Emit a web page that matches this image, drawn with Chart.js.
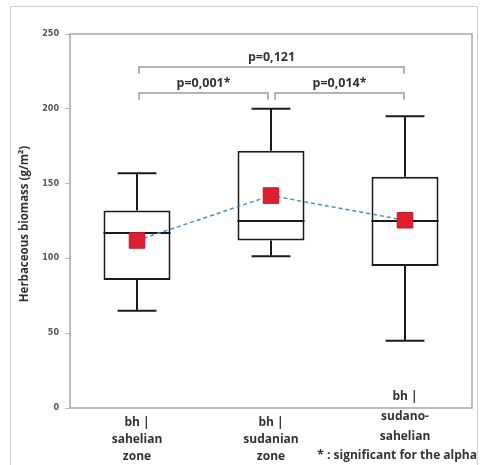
<!DOCTYPE html>
<html>
<head>
<meta charset="utf-8">
<script src="https://cdn.jsdelivr.net/npm/chart.js@4.4.1/dist/chart.umd.min.js"></script>
<style>
  html, body { margin: 0; padding: 0; background: #fff; }
  #frame { position: absolute; left: 10px; top: 6px; width: 468px; height: 470px; border: 1px solid #cfcfcf; box-sizing: border-box; }
  #wrap { position: absolute; left: 0; top: 0; width: 484px; height: 465px; }
</style>
</head>
<body>
<div id="frame"></div>
<div id="wrap"><canvas id="chart" width="484" height="465"></canvas></div>
<script>
// data
const zones = ['sahelian', 'sudanian', 'sudano-sahelian'];
const zoneLabels = [['bh |', 'sahelian', 'zone'], ['bh |', 'sudanian', 'zone'], ['bh |', 'sudano-', 'sahelian']];
const whiskerMin = [65, 101.5, 45];
const q1 = [85.5, 112, 95];
const medians = [117, 125, 125];
const q3 = [132, 172, 154.5];
const whiskerMax = [157, 200, 195];
const means = [112, 142, 125.5];
const yTicks = [0, 50, 100, 150, 200, 250];

// pairwise comparisons: [from, to, level, label]
const pairs = [
  [0, 2, 228, 'p=0,121'],
  [0, 1, 210.5, 'p=0,001*'],
  [1, 2, 210.5, 'p=0,014*']
];
const footnote = '* : significant for the alpha';

const boxPlugin = {
  id: 'boxParts',
  beforeDatasetDraw(chart, args) {
    if (args.index !== 0) return;
    const { ctx, scales: { y } } = chart;
    const meta = chart.getDatasetMeta(0);
    ctx.save();
    ctx.strokeStyle = '#1a1a1a';
    ctx.lineWidth = 2;
    meta.data.forEach((bar, i) => {
      const cx = bar.x;
      const cap = bar.width * 0.29;
      ctx.beginPath();
      ctx.moveTo(cx, y.getPixelForValue(whiskerMin[i]));
      ctx.lineTo(cx, y.getPixelForValue(q1[i]));
      ctx.moveTo(cx, y.getPixelForValue(q3[i]));
      ctx.lineTo(cx, y.getPixelForValue(whiskerMax[i]));
      ctx.moveTo(cx - cap, y.getPixelForValue(whiskerMin[i]));
      ctx.lineTo(cx + cap, y.getPixelForValue(whiskerMin[i]));
      ctx.moveTo(cx - cap, y.getPixelForValue(whiskerMax[i]));
      ctx.lineTo(cx + cap, y.getPixelForValue(whiskerMax[i]));
      ctx.stroke();
    });
    ctx.restore();
  },
  afterDatasetDraw(chart, args) {
    if (args.index !== 0) return;
    const { ctx, scales: { y } } = chart;
    const meta = chart.getDatasetMeta(0);
    ctx.save();
    ctx.strokeStyle = '#1a1a1a';
    ctx.lineWidth = 2;
    meta.data.forEach((bar, i) => {
      const py = y.getPixelForValue(medians[i]);
      ctx.beginPath();
      ctx.moveTo(bar.x - bar.width / 2, py);
      ctx.lineTo(bar.x + bar.width / 2, py);
      ctx.stroke();
    });
    ctx.restore();
  },
  afterDraw(chart) {
    const { ctx, chartArea: a, scales: { x, y } } = chart;
    ctx.save();
    // plot frame
    ctx.strokeStyle = '#a8a8a8';
    ctx.lineWidth = 1.5;
    ctx.strokeRect(a.left, a.top, a.right - a.left, a.bottom - a.top);

    // comparison brackets
    ctx.strokeStyle = '#9a9a9a';
    ctx.lineWidth = 1.5;
    ctx.fillStyle = '#333';
    ctx.font = 'bold 12.5px "Open Sans", sans-serif';
    ctx.textAlign = 'center';
    ctx.textBaseline = 'alphabetic';
    pairs.forEach(([from, to, level, label]) => {
      let x1 = x.getPixelForValue(from) + 2;
      let x2 = x.getPixelForValue(to) - 1;
      if (from === 1) x1 += 2;
      if (to === 1) x2 -= 2;
      const py = y.getPixelForValue(level);
      const drop = y.getPixelForValue(level - 4.5);
      ctx.beginPath();
      ctx.moveTo(x1, drop);
      ctx.lineTo(x1, py);
      ctx.lineTo(x2, py);
      ctx.lineTo(x2, drop);
      ctx.stroke();
      ctx.fillText(label, (x1 + x2) / 2, py - 6);
    });

    // category labels
    ctx.fillStyle = '#333';
    ctx.font = 'bold 12px "Open Sans", sans-serif';
    zoneLabels.forEach((lines, i) => {
      const cx = x.getPixelForValue(i);
      const startY = i === 2 ? a.bottom - 8 : a.bottom + 18;
      const step = i === 2 ? 20 : 17;
      lines.forEach((t, j) => ctx.fillText(t, cx, startY + j * step));
    });

    // y title
    ctx.save();
    ctx.translate(28, (a.top + a.bottom) / 2 + 3);
    ctx.rotate(-Math.PI / 2);
    ctx.font = 'bold 11.5px "Open Sans", sans-serif';
    ctx.fillText('Herbaceous biomass (g/m\u00B2)', 0, 0);
    ctx.restore();

    // footnote
    ctx.textAlign = 'right';
    ctx.font = 'bold 12px "Open Sans", sans-serif';
    ctx.fillText(footnote, 477, 459);
    ctx.restore();
  }
};

new Chart(document.getElementById('chart'), {
  type: 'bar',
  data: {
    labels: zones,
    datasets: [
      {
        type: 'bar',
        data: zones.map((z, i) => [q1[i], q3[i]]),
        backgroundColor: '#ffffff',
        borderColor: '#1a1a1a',
        borderWidth: 2,
        borderSkipped: false,
        barPercentage: 0.5,
        categoryPercentage: 1,
        order: 2
      },
      {
        type: 'line',
        data: means,
        borderColor: '#4a8fc4',
        borderWidth: 1.5,
        borderDash: [4, 3],
        pointStyle: 'rect',
        pointRadius: 11,
        pointBackgroundColor: '#dd1f2e',
        pointBorderColor: '#c01828',
        pointBorderWidth: 1,
        order: 1
      }
    ]
  },
  options: {
    responsive: false,
    animation: false,
    layout: { padding: { left: 10, top: 34, right: 11, bottom: 57 } },
    plugins: { legend: { display: false }, tooltip: { enabled: false } },
    scales: {
      x: {
        offset: true,
        grid: { display: false },
        border: { display: false },
        ticks: { display: false },
        afterFit: s => { s.height = 0; }
      },
      y: {
        min: 0,
        max: 250,
        afterBuildTicks: s => { s.ticks = yTicks.map(v => ({ value: v })); },
        grid: { drawOnChartArea: false, tickLength: 5, color: '#bbb' },
        border: { display: false },
        ticks: { padding: 6, color: '#555', font: { size: 8, family: 'DejaVu Sans', weight: 'bold' } },
        afterFit: s => { s.width = 60; }
      }
    }
  },
  plugins: [boxPlugin]
});
</script>
</body>
</html>
